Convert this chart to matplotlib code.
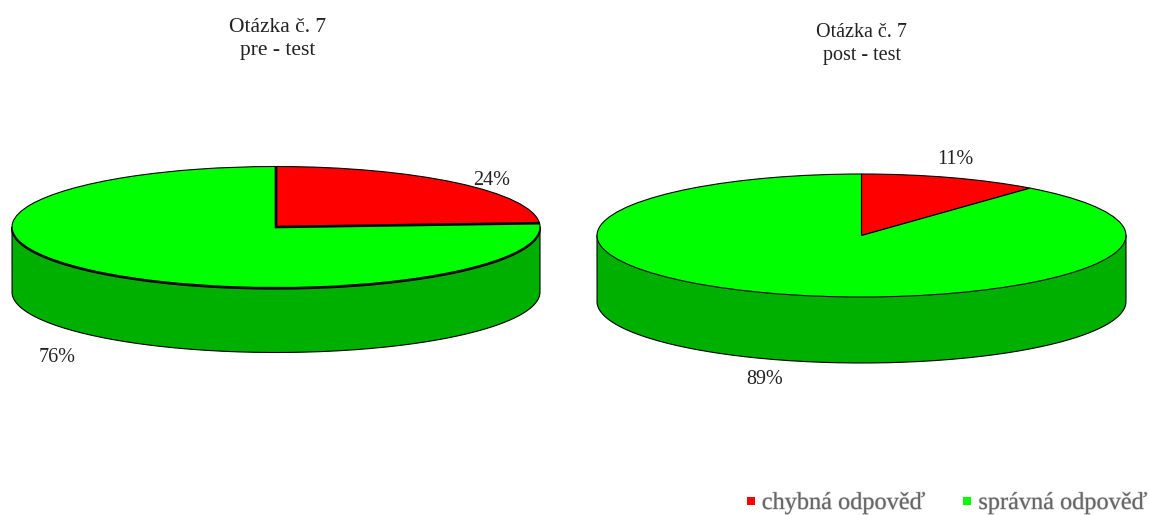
import numpy as np
import matplotlib
matplotlib.use("Agg")
import matplotlib.pyplot as plt
from matplotlib.lines import Line2D
import matplotlib.patheffects as pe

plt.rcParams["font.family"] = ["Liberation Serif", "DejaVu Serif"]

W, H = 1149, 515
categories = ["chybná odpověď", "správná odpověď"]
pre_test = [24, 76]
post_test = [11, 89]
titles = ["Otázka č. 7\npre - test", "Otázka č. 7\npost - test"]
colors = ["#ff0000", "#00ff00"]
side_color = "#00b000"
text_color = "#222222"


def disc(fig, values, cx, cy, rx, ry, depth, heavy=False):
    """Draw a pie as a flat disc with an extruded front wall (pixel geometry)."""
    ax = fig.add_axes([(cx - rx) / W, 1 - (cy + ry) / H, 2 * rx / W, 2 * ry / H])
    t = np.linspace(np.pi, 2 * np.pi, 300)
    x, y = np.cos(t), np.sin(t)
    d = depth / ry
    wall_x = np.r_[x, x[::-1]]
    wall_y = np.r_[y, y[::-1] - d]
    ax.fill(wall_x, wall_y, color=side_color, lw=0, clip_on=False, zorder=1)
    ax.plot(np.r_[-1, x, 1], np.r_[0, y - d, 0], color="black", lw=0.8,
            clip_on=False, zorder=2)
    wedges, _ = ax.pie(
        values, colors=colors, startangle=90, counterclock=False, radius=1,
        wedgeprops={"edgecolor": "black", "linewidth": 0.8, "zorder": 3},
    )
    for w in wedges:
        w.set_clip_on(False)
    if heavy:
        # darker front rim and bolder slice borders on the first slice
        ax.plot(x, y - 1.2 / ry, color="black", lw=1.4, clip_on=False, zorder=2.5)
        end = np.deg2rad(90 - 360 * values[0] / sum(values))
        ax.plot([0, 0, np.cos(end)], [1, 0, np.sin(end)], color="black", lw=1.9,
                clip_on=False, zorder=4, solid_joinstyle="miter", solid_capstyle="butt")
    ax.set_aspect("auto")
    ax.set_xlim(-1, 1)
    ax.set_ylim(-1, 1)
    ax.axis("off")
    return ax


def label(fig, x, y, text, size):
    fig.text(x / W, 1 - y / H, text, ha="center", va="center",
             fontsize=size, color=text_color, zorder=10, linespacing=1.33)


fig = plt.figure(figsize=(W / 100, H / 100), dpi=100, facecolor="white")

disc(fig, pre_test, 276, 227, 264, 60.5, 65, heavy=True)
disc(fig, post_test, 861.5, 235.5, 264.5, 61.5, 66)

label(fig, 278, 39, titles[0], 15.5)
label(fig, 862, 44, titles[1], 14.5)

label(fig, 492, 180, f"{pre_test[0]}%", 14.5)
label(fig, 57, 357, f"{pre_test[1]}%", 14.5)
label(fig, 955, 160, f"{post_test[0]}%", 14.5)
label(fig, 764.5, 379, f"{post_test[1]}%", 14.5)

handles = [Line2D([], [], ls="", marker="s", ms=5.5, mfc=c, mec=c, mew=0) for c in colors]
leg = fig.legend(
    handles, categories, ncol=2, frameon=False, fontsize=17.5,
    loc="center right", bbox_to_anchor=(1147 / W, 1 - 503 / H),
    handlelength=0.5, handletextpad=0.2, columnspacing=1.5, borderpad=0, borderaxespad=0,
)
for t in leg.get_texts():
    t.set_color("#666666")
    t.set_path_effects([pe.withStroke(linewidth=1.0, foreground="#c8c8c8", alpha=0.6)])

fig.savefig("out.png", dpi=100, facecolor="white")
